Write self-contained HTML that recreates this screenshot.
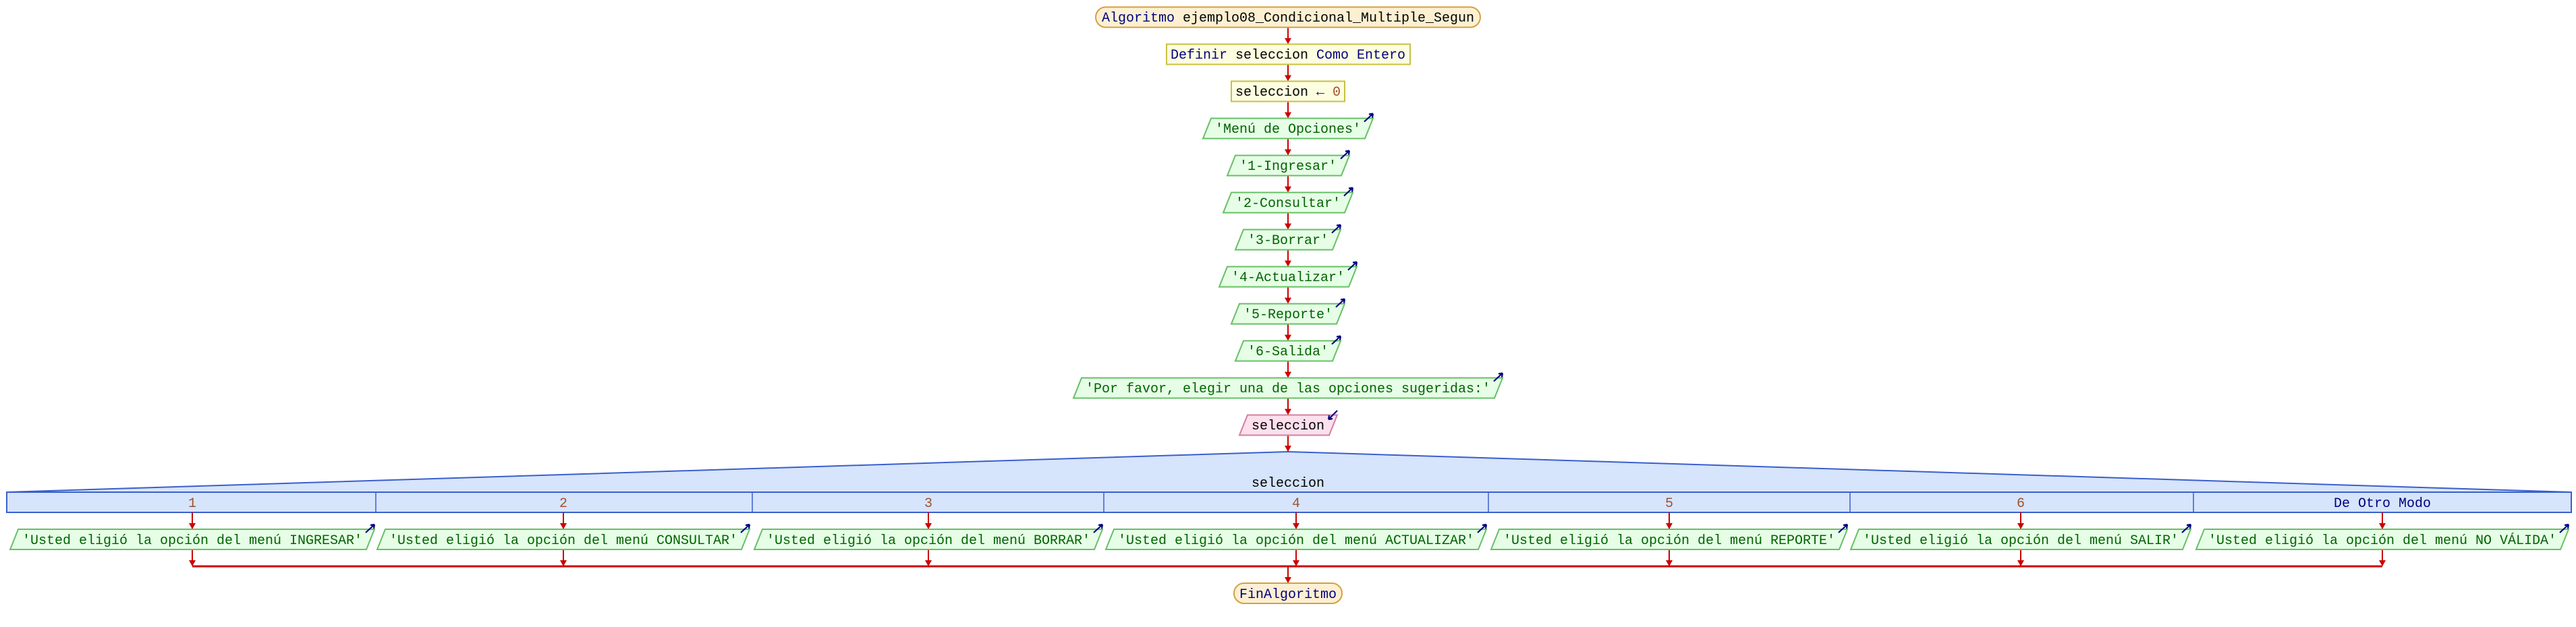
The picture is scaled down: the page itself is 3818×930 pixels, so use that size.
<!DOCTYPE html>
<html><head><meta charset="utf-8"><style>
html,body{margin:0;padding:0;background:#fff;}
svg{display:block;}
text{font-family:"Liberation Mono","DejaVu Sans Mono",monospace;font-size:20px;}
</style></head><body>
<svg width="3818" height="930" viewBox="0 0 3818 930" xmlns="http://www.w3.org/2000/svg">
<defs>
<g id="ah"><polygon points="-5,-9 5,-9 0,0" fill="#cc0000"/></g>
<g id="oi"><path d="M-13,12 L0,0 M0,0 L-6,1 M0,0 L-1,6" stroke="#000080" stroke-width="2.2" fill="none"/></g>
</defs>
<g stroke="#cc0000" stroke-width="2">
<line x1="1909" y1="41" x2="1909" y2="64"/>
<line x1="1909" y1="95.5" x2="1909" y2="119"/>
<line x1="1909" y1="150.5" x2="1909" y2="174"/>
<line x1="1909" y1="205.5" x2="1909" y2="229"/>
<line x1="1909" y1="260.5" x2="1909" y2="284"/>
<line x1="1909" y1="315.5" x2="1909" y2="339"/>
<line x1="1909" y1="370.5" x2="1909" y2="394"/>
<line x1="1909" y1="425.5" x2="1909" y2="449"/>
<line x1="1909" y1="480.5" x2="1909" y2="504"/>
<line x1="1909" y1="535.5" x2="1909" y2="559"/>
<line x1="1909" y1="590.5" x2="1909" y2="614"/>
<line x1="1909" y1="645.5" x2="1909" y2="669"/>
<line x1="1909" y1="840" x2="1909" y2="864"/>
</g>
<g>
<use href="#ah" x="1909" y="65.5"/><use href="#ah" x="1909" y="120.5"/><use href="#ah" x="1909" y="175.5"/>
<use href="#ah" x="1909" y="230.5"/><use href="#ah" x="1909" y="285.5"/><use href="#ah" x="1909" y="340.5"/>
<use href="#ah" x="1909" y="395.5"/><use href="#ah" x="1909" y="450.5"/><use href="#ah" x="1909" y="505.5"/>
<use href="#ah" x="1909" y="560.5"/><use href="#ah" x="1909" y="615.5"/><use href="#ah" x="1909" y="670"/>
<use href="#ah" x="1909" y="865"/>
</g>

<!-- start -->
<rect x="1624" y="10.5" width="570" height="30" rx="15" fill="#fdf0d2" stroke="#d4a040" stroke-width="2"/>
<text x="1909" y="32" text-anchor="middle"><tspan fill="#000080">Algoritmo</tspan> ejemplo08_Condicional_Multiple_Segun</text>
<!-- definir -->
<rect x="1729" y="65.5" width="361" height="30" fill="#fdfde0" stroke="#c8c040" stroke-width="2"/>
<text x="1909" y="87" text-anchor="middle"><tspan fill="#000080">Definir</tspan> seleccion <tspan fill="#000080">Como Entero</tspan></text>
<rect x="1825" y="120.5" width="168" height="30" fill="#fdfde0" stroke="#c8c040" stroke-width="2"/>
<text x="1909" y="142" text-anchor="middle">seleccion <tspan fill="#000080">←</tspan> <tspan fill="#a0522d">0</tspan></text>

<g fill="#e6fde6" stroke="#66c066" stroke-width="2">
<polygon points="1795,175.5 2035,175.5 2023,205.5 1783,205.5"/>
<polygon points="1831,230.5 2000,230.5 1988,260.5 1819,260.5"/>
<polygon points="1825,285.5 2005,285.5 1993,315.5 1813,315.5"/>
<polygon points="1843,340.5 1987,340.5 1975,370.5 1831,370.5"/>
<polygon points="1819,395.5 2011,395.5 1999,425.5 1807,425.5"/>
<polygon points="1837,450.5 1993,450.5 1981,480.5 1825,480.5"/>
<polygon points="1843,505.5 1987,505.5 1975,535.5 1831,535.5"/>
<polygon points="1603,560.5 2227,560.5 2215,590.5 1591,590.5"/>
</g>
<g fill="#006400" text-anchor="middle">
<text x="1909" y="197">'Menú de Opciones'</text>
<text x="1909" y="252">'1-Ingresar'</text>
<text x="1909" y="307">'2-Consultar'</text>
<text x="1909" y="362">'3-Borrar'</text>
<text x="1909" y="417">'4-Actualizar'</text>
<text x="1909" y="472">'5-Reporte'</text>
<text x="1909" y="527">'6-Salida'</text>
<text x="1909" y="582">'Por favor, elegir una de las opciones sugeridas:'</text>
</g>
<g>
<use href="#oi" x="2035" y="168.5"/><use href="#oi" x="2000" y="223.5"/><use href="#oi" x="2005" y="278.5"/>
<use href="#oi" x="1987" y="333.5"/><use href="#oi" x="2011" y="388.5"/><use href="#oi" x="1993" y="443.5"/>
<use href="#oi" x="1987" y="498.5"/><use href="#oi" x="2227" y="553.5"/>
</g>
<!-- input -->
<polygon points="1849,615.5 1982,615.5 1970,645.5 1837,645.5" fill="#fde0ec" stroke="#d080a0" stroke-width="2"/>
<text x="1909" y="637" text-anchor="middle">seleccion</text>
<path d="M1982,609 L1969,622 M1969,622 L1975,621 M1969,622 L1970,616" stroke="#000080" stroke-width="2.2" fill="none"/>

<!-- segun -->
<polygon points="10,730 1909,670 3811,730" fill="#d6e4fc" stroke="#3a5fcd" stroke-width="2"/>
<rect x="10" y="730" width="3801" height="30" fill="#d6e4fc" stroke="#3a5fcd" stroke-width="2"/>
<text x="1909" y="722" text-anchor="middle">seleccion</text>
<g stroke="#3a5fcd" stroke-width="1.5">
<line x1="557" y1="730" x2="557" y2="760"/><line x1="1115" y1="730" x2="1115" y2="760"/>
<line x1="1636" y1="730" x2="1636" y2="760"/><line x1="2206" y1="730" x2="2206" y2="760"/>
<line x1="2742" y1="730" x2="2742" y2="760"/><line x1="3251" y1="730" x2="3251" y2="760"/>
</g>
<g fill="#a0522d" text-anchor="middle">
<text x="285" y="752">1</text><text x="835" y="752">2</text><text x="1376" y="752">3</text>
<text x="1921" y="752">4</text><text x="2474" y="752">5</text><text x="2995" y="752">6</text>
</g>
<text x="3531" y="752" text-anchor="middle" fill="#000080">De Otro Modo</text>

<g stroke="#cc0000" stroke-width="2">
<line x1="285" y1="760" x2="285" y2="784"/><line x1="835" y1="760" x2="835" y2="784"/>
<line x1="1376" y1="760" x2="1376" y2="784"/><line x1="1921" y1="760" x2="1921" y2="784"/>
<line x1="2474" y1="760" x2="2474" y2="784"/><line x1="2995" y1="760" x2="2995" y2="784"/>
<line x1="3531" y1="760" x2="3531" y2="784"/>
<line x1="285" y1="815" x2="285" y2="839"/><line x1="835" y1="815" x2="835" y2="839"/>
<line x1="1376" y1="815" x2="1376" y2="839"/><line x1="1921" y1="815" x2="1921" y2="839"/>
<line x1="2474" y1="815" x2="2474" y2="839"/><line x1="2995" y1="815" x2="2995" y2="839"/>
<line x1="3531" y1="815" x2="3531" y2="839"/>
</g>
<line x1="285" y1="840" x2="3531" y2="840" stroke="#cc0000" stroke-width="3"/>
<g>
<use href="#ah" x="285" y="785"/><use href="#ah" x="835" y="785"/><use href="#ah" x="1376" y="785"/>
<use href="#ah" x="1921" y="785"/><use href="#ah" x="2474" y="785"/><use href="#ah" x="2995" y="785"/>
<use href="#ah" x="3531" y="785"/>
<use href="#ah" x="285" y="840"/><use href="#ah" x="835" y="840"/><use href="#ah" x="1376" y="840"/>
<use href="#ah" x="1921" y="840"/><use href="#ah" x="2474" y="840"/><use href="#ah" x="2995" y="840"/>
<use href="#ah" x="3531" y="840"/>
</g>
<g fill="#e6fde6" stroke="#66c066" stroke-width="2">
<polygon points="27,785 555,785 543,815 15,815"/>
<polygon points="571,785 1111,785 1099,815 559,815"/>
<polygon points="1130,785 1634,785 1622,815 1118,815"/>
<polygon points="1651,785 2203,785 2191,815 1639,815"/>
<polygon points="2222,785 2738,785 2726,815 2210,815"/>
<polygon points="2755,785 3247,785 3235,815 2743,815"/>
<polygon points="3267,785 3807,785 3795,815 3255,815"/>
</g>
<g fill="#006400" text-anchor="middle">
<text x="285" y="807">'Usted eligió la opción del menú INGRESAR'</text>
<text x="835" y="807">'Usted eligió la opción del menú CONSULTAR'</text>
<text x="1376" y="807">'Usted eligió la opción del menú BORRAR'</text>
<text x="1921" y="807">'Usted eligió la opción del menú ACTUALIZAR'</text>
<text x="2474" y="807">'Usted eligió la opción del menú REPORTE'</text>
<text x="2995" y="807">'Usted eligió la opción del menú SALIR'</text>
<text x="3531" y="807">'Usted eligió la opción del menú NO VÁLIDA'</text>
</g>
<g>
<use href="#oi" x="555" y="778"/><use href="#oi" x="1111" y="778"/><use href="#oi" x="1634" y="778"/>
<use href="#oi" x="2203" y="778"/><use href="#oi" x="2738" y="778"/><use href="#oi" x="3247" y="778"/>
<use href="#oi" x="3807" y="778"/>
</g>
<!-- end -->
<rect x="1829" y="865" width="160" height="30" rx="15" fill="#fdf0d2" stroke="#d4a040" stroke-width="2"/>
<text x="1909" y="887" text-anchor="middle" fill="#000080">FinAlgoritmo</text>
</svg>
</body></html>
